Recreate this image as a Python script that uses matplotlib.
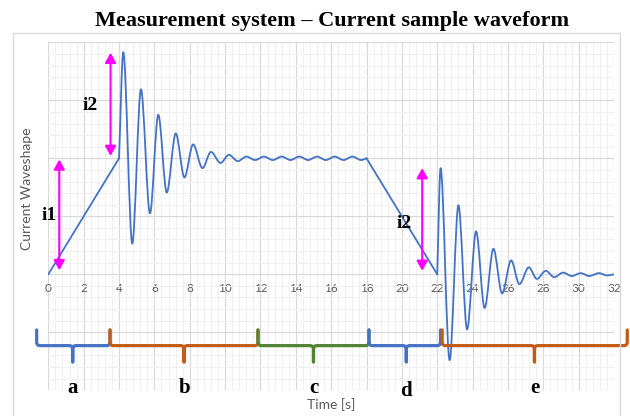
import numpy as np
import matplotlib
matplotlib.use('Agg')
import matplotlib.pyplot as plt
from matplotlib.path import Path
from matplotlib.patches import PathPatch, Rectangle
from matplotlib.ticker import MultipleLocator

# ramp segments (straight)
rise_t = [0.0, 4.0]
rise_i = [0.0, 2.0]
fall_t = [18.0, 22.0]
fall_i = [2.0, 0.0]

# first oscillation, extrema
osc1_t = [4.0, 4.24, 4.75, 5.24, 5.75, 6.22, 6.70, 7.21, 7.70, 8.19, 8.72,
          9.20, 9.74, 10.22, 10.72, 11.2, 11.7, 12.2, 12.7, 13.2, 13.7, 14.2,
          14.7, 15.2, 15.7, 16.2, 16.7, 17.2, 17.7, 18.0]
osc1_i = [2.0, 3.83, 0.53, 3.19, 1.05, 2.75, 1.41, 2.43, 1.67, 2.24, 1.83,
          2.11, 1.92, 2.06, 1.95, 2.03, 1.97, 2.03, 1.97, 2.03, 1.97, 2.03,
          1.97, 2.03, 1.97, 2.03, 1.97, 2.03, 1.97, 2.0]

# second oscillation
osc2_t = [22.0, 22.19, 22.70, 23.20, 23.69, 24.20, 24.68, 25.18, 25.67, 26.18,
          26.65, 27.18, 27.64, 28.14, 28.62, 29.12, 29.6, 30.12, 30.6, 31.15,
          31.6, 32.0]
osc2_i = [0.0, 1.83, -1.48, 1.19, -0.95, 0.74, -0.58, 0.44, -0.33, 0.24,
          -0.17, 0.12, -0.08, 0.06, -0.05, 0.03, -0.03, 0.02, -0.03, 0.02,
          -0.02, 0.0]

# phase braces below the chart
seg_names = ['a', 'b', 'c', 'd', 'e']
seg_start = [-0.66, 3.49, 11.86, 18.14, 22.28]
seg_end = [3.49, 11.86, 18.14, 22.19, 32.75]
seg_mid = [1.38, 7.68, 15.0, 20.25, 27.5]
seg_colors = ['#4472C4', '#C55A11', '#548235', '#4472C4', '#C55A11']

# magenta amplitude arrows
arrow_t = [0.62, 3.52, 21.15]
arrow_lo = [0.07, 2.04, 0.06]
arrow_hi = [1.98, 3.82, 1.83]
arrow_names = ['i1', 'i2', 'i2']
arrow_label_t = [0.05, 2.4, 20.15]
arrow_label_i = [1.01, 2.91, 0.88]

x_ticks = list(range(0, 33, 2))

blue = '#4472C4'
gray = '#595959'
serif = 'Liberation Serif'


def smooth_path(xs, ys):
    # cubic bezier through the points, flat at the peaks (like a smoothed line)
    n = len(xs)
    m = []
    for k in range(n):
        if k == 0:
            m.append((ys[1] - ys[0]) / (xs[1] - xs[0]))
        elif k == n - 1:
            m.append((ys[k] - ys[k - 1]) / (xs[k] - xs[k - 1]))
        elif (ys[k] - ys[k - 1]) * (ys[k + 1] - ys[k]) <= 0:
            m.append(0.0)
        else:
            m.append((ys[k + 1] - ys[k - 1]) / (xs[k + 1] - xs[k - 1]))
    verts = [(xs[0], ys[0])]
    codes = [Path.MOVETO]
    for k in range(n - 1):
        h = xs[k + 1] - xs[k]
        verts.append((xs[k] + h / 3, ys[k] + m[k] * h / 3))
        verts.append((xs[k + 1] - h / 3, ys[k + 1] - m[k + 1] * h / 3))
        verts.append((xs[k + 1], ys[k + 1]))
        codes += [Path.CURVE4] * 3
    return Path(verts, codes)


fig = plt.figure(figsize=(6.3, 4.16), dpi=100)
ax = fig.add_axes([0.0767, 0.0618, 0.8979, 0.8365])

# outer chart frame
fig.patches.append(Rectangle((13 / 630, -0.05), 607 / 630, 1.05 - 33 / 416,
                             transform=fig.transFigure, fill=False,
                             edgecolor='#d9d9d9', lw=1.0))

ax.set_xlim(0, 32)
ax.set_ylim(-2, 4)
ax.xaxis.set_major_locator(MultipleLocator(2))
ax.xaxis.set_minor_locator(MultipleLocator(0.4))
ax.yaxis.set_major_locator(MultipleLocator(1))
ax.yaxis.set_minor_locator(MultipleLocator(0.2))
ax.grid(which='major', color='#d9d9d9', lw=0.9)
ax.grid(which='minor', color='#f0f0f0', lw=0.8)
ax.set_axisbelow(True)
for s in ax.spines.values():
    s.set_visible(False)
ax.spines['bottom'].set_position(('data', 0))
ax.set_xticks(x_ticks)
ax.set_xticklabels([str(t) for t in x_ticks], fontfamily='Lato')
ax.tick_params(axis='x', which='both', length=0, pad=6, labelsize=8.5,
               labelcolor=gray)
ax.tick_params(axis='y', which='both', length=0, labelleft=False)

ax.set_xlabel('Time [s]', fontfamily='Lato', fontsize=10, color=gray)
ax.xaxis.set_label_coords(0.5, -0.022)
ax.set_ylabel('Current Waveshape', fontfamily='Lato', fontsize=10, color=gray)
ax.yaxis.set_label_coords(-0.027, 0.578)

# waveform
ax.plot(rise_t, rise_i, color=blue, lw=1.3, solid_capstyle='round')
ax.plot(fall_t, fall_i, color=blue, lw=1.3, solid_capstyle='round')
for ts, vs in [(osc1_t, osc1_i), (osc2_t, osc2_i)]:
    ax.add_patch(PathPatch(smooth_path(ts, vs), fill=False, edgecolor=blue,
                           lw=1.3, capstyle='round', joinstyle='round', zorder=3))

# arrows and their labels
for k in range(len(arrow_t)):
    ax.annotate('', xy=(arrow_t[k], arrow_hi[k]), xytext=(arrow_t[k], arrow_lo[k]),
                arrowprops=dict(arrowstyle='<|-|>,head_length=0.45,head_width=0.25',
                                mutation_scale=13, color='#FF00FF', lw=1.5,
                                shrinkA=0, shrinkB=0), zorder=4)
    ax.text(arrow_label_t[k], arrow_label_i[k], arrow_names[k], fontfamily=serif,
            fontweight='bold', fontsize=14, ha='center', va='center', zorder=5)

# braces
ytop, ybar, ytip = -0.96, -1.23, -1.51
rx, ry = 0.2, 0.06
for k in range(len(seg_names)):
    x0, x1, xt = seg_start[k], seg_end[k], seg_mid[k]
    verts = [(x0, ytop), (x0, ybar + ry), (x0, ybar), (x0 + rx, ybar),
             (xt - rx, ybar), (xt, ybar), (xt, ybar - ry), (xt, ytip),
             (xt, ybar - ry), (xt, ybar), (xt + rx, ybar), (x1 - rx, ybar),
             (x1, ybar), (x1, ybar + ry), (x1, ytop)]
    codes = [Path.MOVETO, Path.LINETO, Path.CURVE3, Path.CURVE3,
             Path.LINETO, Path.CURVE3, Path.CURVE3, Path.LINETO,
             Path.LINETO, Path.CURVE3, Path.CURVE3, Path.LINETO,
             Path.CURVE3, Path.CURVE3, Path.LINETO]
    ax.add_patch(PathPatch(Path(verts, codes), fill=False, edgecolor=seg_colors[k],
                           lw=2.3, capstyle='round', joinstyle='round',
                           clip_on=False, zorder=6))
    ly = -2.10 if seg_names[k] == 'd' else -2.05
    ax.text(xt, ly, seg_names[k], fontfamily=serif, fontweight='bold', fontsize=15,
            ha='center', va='baseline', clip_on=False, zorder=6)

fig.text(0.527, 0.9375, 'Measurement system \u2013 Current sample waveform',
         fontfamily=serif, fontweight='bold', fontsize=16, ha='center',
         va='baseline')

fig.savefig('out.png', dpi=100)
